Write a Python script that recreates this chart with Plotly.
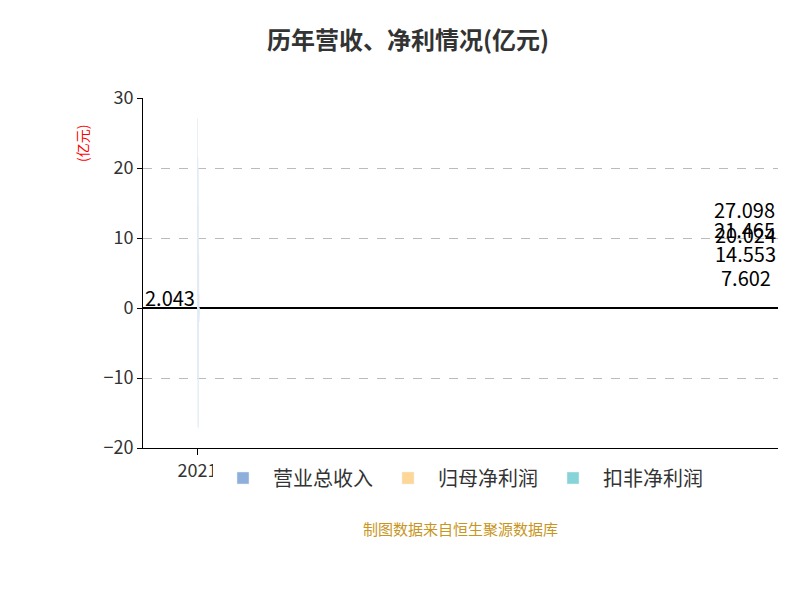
import plotly.graph_objects as go

years = ["2021", "2022", "2023", "2024", "2025", "2026H1"]
revenue = [27.098, 21.465, 20.024, 14.553, 7.602, 2.043]
net_profit = [2.1, -9.8, -17.0, -1.2, -1.6, -1.0]
deducted = [1.9, -10.1, -17.1, -0.3, -1.1, -2.0]

fig = go.Figure()
fig.add_bar(x=years, y=revenue, name="营业总收入", marker_color="#8eaedb")
fig.add_bar(x=years, y=net_profit, name="归母净利润", marker_color="#fed797")
fig.add_bar(x=years, y=deducted, name="扣非净利润", marker_color="#86d4d8")

for yr, v in zip(years, revenue):
    fig.add_annotation(x=yr, y=v / 2 + 0.5, text=f"{v:.3f}", showarrow=False,
                       xshift=-29, font=dict(size=20, color="black"))

fig.update_layout(
    width=800, height=600, plot_bgcolor="white", paper_bgcolor="white",
    font=dict(family="Noto Sans CJK SC", size=18, color="#333"),
    title=dict(text="<b>历年营收、净利情况(亿元)</b>", x=0.5, y=0.96, xanchor="center",
               font=dict(size=24, color="#333")),
    barmode="group", bargap=0.2, bargroupgap=0.1,
    margin=dict(l=135, r=30, t=90, b=160),
    legend=dict(orientation="h", x=0.5, xanchor="center", y=-0.2, yanchor="top",
                font=dict(size=20), itemwidth=50),
    xaxis=dict(type="category", showline=True, linecolor="black", ticks="outside",
               tickcolor="black", ticklen=6, tickfont=dict(size=18)),
    yaxis=dict(range=[-20, 30], dtick=10, showgrid=True, gridcolor="#bbb", griddash="dash",
               zeroline=True, zerolinecolor="black", zerolinewidth=1.5,
               showline=True, linecolor="black", ticks="outside", tickcolor="black",
               tickfont=dict(size=18)),
)
fig.update_layout(legend=dict(y=-0.03))
fig.add_annotation(xref="paper", yref="paper", x=-0.115, y=0.93, text="(亿元)", textangle=-90,
                   showarrow=False, font=dict(size=14, color="red"))
fig.add_annotation(xref="paper", yref="paper", x=0.5, y=-0.23, yanchor="middle",
                   text="制图数据来自恒生聚源数据库", showarrow=False,
                   font=dict(size=15, color="#c8961e"))
fig.write_html("out.html")
